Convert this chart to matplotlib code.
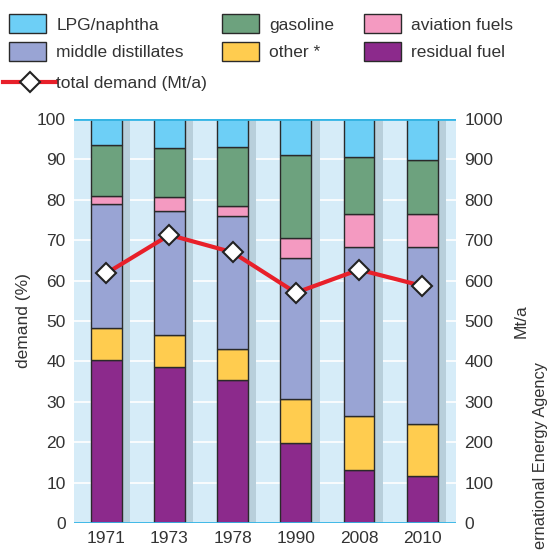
import numpy as np
import matplotlib
matplotlib.use('Agg')
import matplotlib.pyplot as plt
from matplotlib.patches import Patch
from matplotlib.lines import Line2D

plt.rcParams['font.family'] = ['Liberation Sans', 'DejaVu Sans']

# data (shares in %)
years = ['1971', '1973', '1978', '1990', '2008', '2010']
residual = [40.3, 38.6, 35.3, 19.7, 13.2, 11.6]
other = [8.0, 7.9, 7.8, 11.0, 13.4, 13.0]
middle = [30.6, 30.7, 32.8, 34.9, 41.8, 43.8]
aviation = [2.1, 3.4, 2.6, 4.9, 8.1, 8.2]
gasoline = [12.5, 12.1, 14.5, 20.5, 14.0, 13.2]
lpg = [6.5, 7.3, 7.0, 9.0, 9.5, 10.2]
total = [618, 713, 670, 570, 627, 587]

series = [
    ('residual fuel', residual, '#8c2a8c'),
    ('other *', other, '#ffcc4f'),
    ('middle distillates', middle, '#99a4d4'),
    ('aviation fuels', aviation, '#f49ac1'),
    ('gasoline', gasoline, '#6da27e'),
    ('LPG/naphtha', lpg, '#6dcff6'),
]
colors = {name: c for name, _, c in series}

txt = '#333333'
fig = plt.figure(figsize=(5.47, 5.51), dpi=100)
ax = fig.add_axes([74 / 547, 28 / 551, 382 / 547, 404 / 551])
ax.set_facecolor('#d6ecf8')

x = np.arange(len(years))
w = 0.49
# shadow strips next to bars
ax.bar(x + w / 2, 100, width=0.13, align='edge', color='#b8cfdb', zorder=1)
for yv in range(10, 100, 10):
    ax.axhline(yv, color='white', lw=1.2, zorder=0.5)

bottom = np.zeros(len(years))
for name, vals, c in series:
    ax.bar(x, vals, width=w, bottom=bottom, color=c, edgecolor='#2a2a2a', lw=1.0, zorder=2)
    bottom += np.array(vals)

ax.axhline(100, color='#33b5e5', lw=2, zorder=3)
ax.axhline(0, color='#33b5e5', lw=2, zorder=3)

ax.set_xlim(-0.51, 5.535)
ax.set_ylim(0, 100)
ax.set_yticks(range(0, 101, 10))
ax.set_xticks(x)
ax.set_xticklabels(years)
for s in ax.spines.values():
    s.set_visible(False)
ax.tick_params(length=0, labelsize=12.5, colors=txt, pad=6)
ax.set_ylabel('demand (%)', fontsize=12.5, color=txt, labelpad=4)

ax2 = ax.twinx()
ax2.set_ylim(0, 1000)
ax2.set_yticks(range(0, 1001, 100))
for s in ax2.spines.values():
    s.set_visible(False)
ax2.tick_params(length=0, labelsize=12.5, colors=txt, pad=6)
ax2.set_ylabel('Mt/a', fontsize=12.5, color=txt, labelpad=8)
ax2.plot(x, total, color='#e8202a', lw=3, marker='D', ms=10, mfc='white',
         mec='#222222', mew=1.5, zorder=5)

# legend
cols = [(['LPG/naphtha', 'middle distillates'], 6 / 547),
        (['gasoline', 'other *'], 219 / 547),
        (['aviation fuels', 'residual fuel'], 361 / 547)]
for names, xl in cols:
    handles = [Patch(facecolor=colors[n], edgecolor='#2a2a2a', label=n) for n in names]
    fig.legend(handles=handles, loc='upper left', bbox_to_anchor=(xl, 1 - 11 / 551),
               frameon=False, fontsize=12.5, handlelength=2.1, handleheight=1.3,
               handletextpad=0.6, labelspacing=0.5, labelcolor=txt,
               borderaxespad=0, borderpad=0.2)
line_h = Line2D([], [], color='#e8202a', lw=3, marker='D', ms=10, mfc='white',
                mec='#222222', mew=1.5, label='total demand (Mt/a)')
fig.legend(handles=[line_h], loc='upper left', bbox_to_anchor=(0, 1 - 72 / 551),
           frameon=False, fontsize=12.5, handlelength=3.0, handletextpad=0.05,
           labelcolor=txt, borderaxespad=0, borderpad=0.2)

fig.text(541 / 547, 1 - 362 / 551, 'ernational Energy Agency', rotation=90,
         ha='center', va='top', fontsize=11.8, color=txt)

fig.savefig('out.png', dpi=100)
